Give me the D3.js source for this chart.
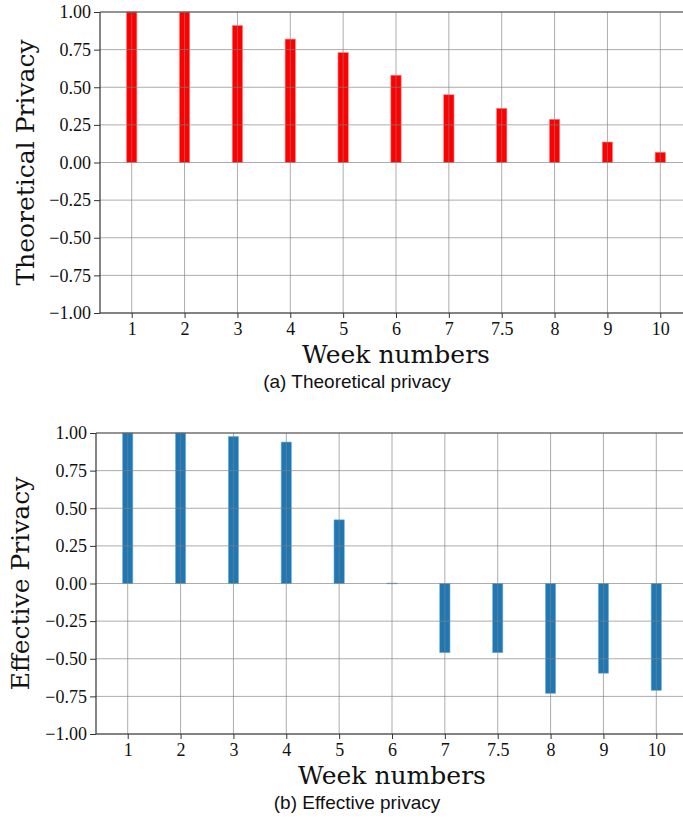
<!DOCTYPE html>
<meta charset="utf-8">
<title>Theoretical vs effective privacy</title>
<style>
body {
  margin: 0px;
  background: white;
}
.tick text {
  font-family: "Liberation Serif", serif;
  font-size: 18px;
  fill: #111;
}
.grid line {
  stroke: #808080;
  stroke-opacity: 0.65;
  stroke-width: 1;
}
.ytitle, .xtitle {
  font-family: "DejaVu Serif", serif;
  font-size: 25px;
  fill: #111;
}
.caption {
  font-family: "Liberation Sans", sans-serif;
  font-size: 19px;
  fill: #111;
}
</style>
<body>
<svg id="chart" width="683" height="818"></svg>
</body>
<script src="https://d3js.org/d3.v7.min.js"></script>
<script>

// week labels (categorical, 7.5 sits between 7 and 8)
var weeks = ["1", "2", "3", "4", "5", "6", "7", "7.5", "8", "9", "10"];
// values
var theoretical = [1.0, 1.0, 0.91, 0.82, 0.73, 0.58, 0.45, 0.36, 0.287, 0.136, 0.068];
var effective = [1.0, 1.0, 0.977, 0.94, 0.423, 0.003, -0.46, -0.46, -0.73, -0.596, -0.71];
var yTicks = [-1, -0.75, -0.5, -0.25, 0, 0.25, 0.5, 0.75, 1];

var svg = d3.select("#chart");

function panel(opts) {
  var x = d3.scalePoint()
      .domain(weeks)
      .range([opts.left, opts.right])
      .padding(0.6);
  var y = d3.scaleLinear()
      .domain([-1, 1])
      .range([opts.bottom, opts.top]);
  var bw = x.step() * 0.195;

  var g = svg.append("g");

  // bars
  g.selectAll("rect.bar")
    .data(opts.values)
    .enter().append("rect")
      .attr("class", "bar")
      .attr("x", function(d, i) { return x(weeks[i]) - bw / 2; })
      .attr("width", bw)
      .attr("y", function(d) { return y(Math.max(0, d)); })
      .attr("height", function(d) { return Math.max(0.8, Math.abs(y(d) - y(0))); })
      .style("fill", opts.color)
      .style("stroke", opts.edge)
      .style("stroke-width", 0.6);

  // grid on top of the bars
  var grid = g.append("g").attr("class", "grid");
  grid.selectAll("line.v")
    .data(weeks)
    .enter().append("line")
      .attr("x1", function(d) { return x(d); })
      .attr("x2", function(d) { return x(d); })
      .attr("y1", opts.top)
      .attr("y2", opts.bottom);
  grid.selectAll("line.h")
    .data(yTicks)
    .enter().append("line")
      .attr("x1", opts.left)
      .attr("x2", opts.right)
      .attr("y1", function(d) { return y(d); })
      .attr("y2", function(d) { return y(d); });

  // axes
  var yAxis = g.append("g")
      .attr("transform", "translate(" + opts.left + ",0)")
      .call(d3.axisLeft(y).tickValues(yTicks).tickFormat(d3.format(".2f")).tickSize(6).tickPadding(3));
  var xAxis = g.append("g")
      .attr("transform", "translate(0," + opts.bottom + ")")
      .call(d3.axisBottom(x).tickSize(5).tickPadding(4));
  [yAxis, xAxis].forEach(function(a) {
    a.select(".domain").remove();
    a.selectAll(".tick line").style("stroke", "#333");
  });

  // spines
  g.append("line")
      .attr("x1", opts.left).attr("x2", opts.left)
      .attr("y1", opts.top).attr("y2", opts.bottom)
      .style("stroke", "#333").style("stroke-width", 1.2);
  g.append("line")
      .attr("x1", opts.left).attr("x2", opts.right)
      .attr("y1", opts.bottom).attr("y2", opts.bottom)
      .style("stroke", "#333").style("stroke-width", 1.2);
  g.append("line")
      .attr("x1", opts.left).attr("x2", opts.right)
      .attr("y1", opts.top).attr("y2", opts.top)
      .style("stroke", "#555").style("stroke-width", 1.2);

  // titles
  g.append("text")
      .attr("class", "ytitle")
      .attr("transform", "translate(" + opts.ytitleX + "," + ((opts.top + opts.bottom) / 2) + ") rotate(-90)")
      .attr("text-anchor", "middle")
      .text(opts.ylabel);
  g.append("text")
      .attr("class", "xtitle")
      .attr("x", (opts.left + opts.right) / 2)
      .attr("y", opts.bottom + 50)
      .attr("text-anchor", "middle")
      .text("Week numbers");
  g.append("text")
      .attr("class", "caption")
      .attr("x", 357 - (opts.left === 100 ? 0 : 0))
      .attr("y", opts.bottom + 75)
      .attr("text-anchor", "middle")
      .text(opts.caption);
}

panel({
  values: theoretical, color: "#ff0000", edge: "#ff8080",
  left: 100, right: 692, top: 12, bottom: 313,
  ytitleX: 34, ylabel: "Theoretical Privacy", caption: "(a) Theoretical privacy"
});
panel({
  values: effective, color: "#1f77b4", edge: "#7fb3d9",
  left: 96, right: 688, top: 433, bottom: 734,
  ytitleX: 29, ylabel: "Effective Privacy", caption: "(b) Effective privacy"
});

</script>
